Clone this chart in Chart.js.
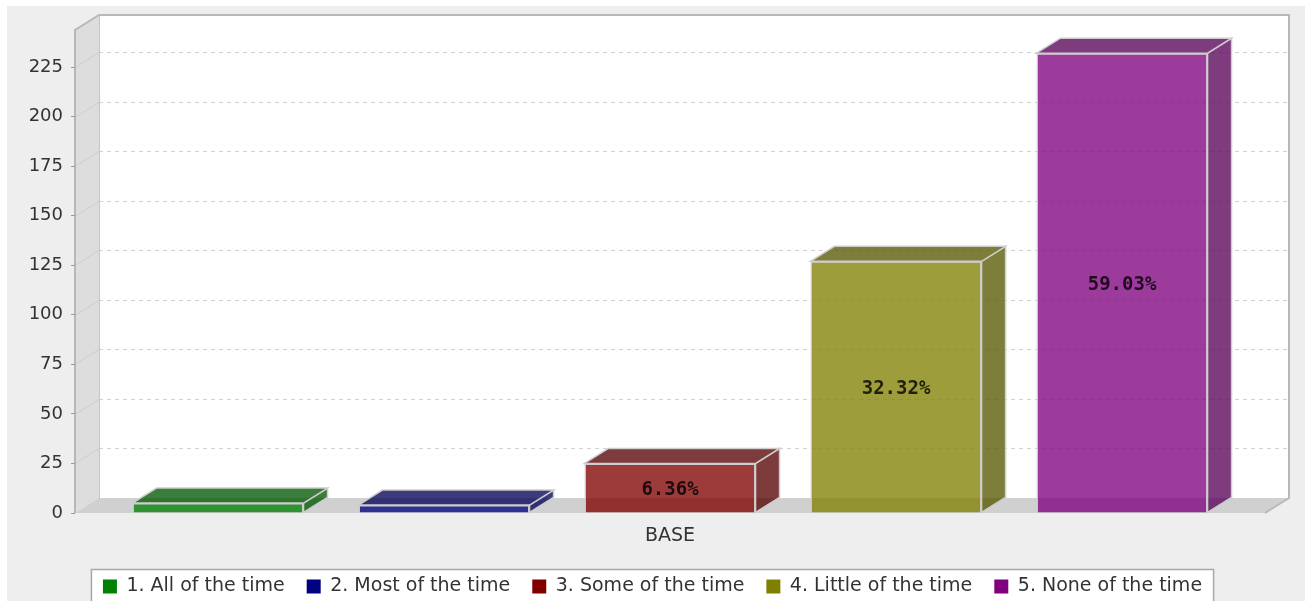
<!DOCTYPE html>
<html>
<head>
<meta charset="utf-8">
<script src="https://cdn.jsdelivr.net/npm/chart.js@4.4.1/dist/chart.umd.min.js"></script>
<style>
  html, body { margin: 0; padding: 0; background: #ffffff; overflow: hidden; }
  #wrap { width: 1305px; height: 601px; }
</style>
</head>
<body>
<div id="wrap"><canvas id="c" width="1305" height="601"></canvas></div>
<script>
// ---- data ----
const categories = ['BASE'];
const seriesLabels = ['1. All of the time', '2. Most of the time', '3. Some of the time', '4. Little of the time', '5. None of the time'];
const counts = [5, 4, 25, 127, 232];
const percentLabels = ['1.27%', '1.02%', '6.36%', '32.32%', '59.03%'];
const seriesColors = ['#008000', '#000080', '#800000', '#808000', '#800080'];
const yTickStep = 25;
const yAxisMax = 243.7;

// ---- style helpers ----
const DEPTH_X = 24, DEPTH_Y = -15;
const ALPHA = 0.77;
const LEGEND_SHIFT = 5;
function hexToRgb(h) {
  return [parseInt(h.slice(1,3),16), parseInt(h.slice(3,5),16), parseInt(h.slice(5,7),16)];
}
function rgba(h, a, k) {
  const [r,g,b] = hexToRgb(h);
  k = k || 1;
  return `rgba(${Math.round(r*k)},${Math.round(g*k)},${Math.round(b*k)},${a})`;
}

const datasets = seriesLabels.map((lab, i) => ({
  label: lab,
  data: [counts[i]],
  backgroundColor: rgba(seriesColors[i], ALPHA),
  borderColor: 'rgba(205,205,205,1)',
  borderWidth: 1.5,
  sideColor: rgba(seriesColors[i], ALPHA, 0.68),
  legendColor: seriesColors[i],
  pct: percentLabels[i]
}));

function legendExtent(chart) {
  const lg = chart.legend;
  if (!lg || !lg.legendHitBoxes || !lg.legendHitBoxes.length) return null;
  let minX = Infinity, maxX = -Infinity, minY = Infinity;
  lg.legendHitBoxes.forEach(h => { minX = Math.min(minX, h.left); maxX = Math.max(maxX, h.left + h.width); minY = Math.min(minY, h.top); });
  return {minX, maxX, minY};
}

const threeD = {
  id: 'threeD',
  beforeDraw(chart) {
    const ctx = chart.ctx;
    const {left, right, top, bottom} = chart.chartArea;
    const ys = chart.scales.y;
    ctx.save();
    ctx.fillStyle = '#ffffff';
    ctx.fillRect(0, 0, chart.width, chart.height);
    ctx.fillStyle = '#eeeeee';
    ctx.fillRect(7, 6, chart.width - 7, chart.height - 6);
    // legend frame
    const ext = legendExtent(chart);
    if (ext) {
      ctx.fillStyle = '#ffffff';
      ctx.fillRect(ext.minX - 11, ext.minY - 7, (ext.maxX - ext.minX) + 22, 40);
      ctx.strokeStyle = '#a8a8a8';
      ctx.lineWidth = 1.5;
      ctx.strokeRect(ext.minX - 11.5, ext.minY - 7.5, (ext.maxX - ext.minX) + 23, 41);
    }
    // back wall
    ctx.fillStyle = '#ffffff';
    ctx.fillRect(left + DEPTH_X, top + DEPTH_Y, right - left, bottom - top);
    // left wall
    ctx.fillStyle = '#dddddd';
    ctx.beginPath();
    ctx.moveTo(left, top);
    ctx.lineTo(left + DEPTH_X, top + DEPTH_Y);
    ctx.lineTo(left + DEPTH_X, bottom + DEPTH_Y);
    ctx.lineTo(left, bottom);
    ctx.closePath();
    ctx.fill();
    // floor
    ctx.fillStyle = '#d0d0d0';
    ctx.beginPath();
    ctx.moveTo(left, bottom);
    ctx.lineTo(left + DEPTH_X, bottom + DEPTH_Y);
    ctx.lineTo(right + DEPTH_X, bottom + DEPTH_Y);
    ctx.lineTo(right, bottom);
    ctx.closePath();
    ctx.fill();
    // gridlines
    ctx.lineWidth = 1;
    ys.ticks.forEach(t => {
      if (t.value <= 0) return;
      const yy = Math.round(ys.getPixelForValue(t.value)) + 0.5;
      ctx.strokeStyle = '#d2d2d2';
      ctx.setLineDash([4, 4]);
      ctx.beginPath();
      ctx.moveTo(left + DEPTH_X, yy + DEPTH_Y);
      ctx.lineTo(right + DEPTH_X, yy + DEPTH_Y);
      ctx.stroke();
      ctx.setLineDash([]);
      ctx.strokeStyle = '#cfcfcf';
      ctx.beginPath();
      ctx.moveTo(left, yy);
      ctx.lineTo(left + DEPTH_X, yy + DEPTH_Y);
      ctx.stroke();
    });
    // wall outlines
    ctx.strokeStyle = '#b8b8b8';
    ctx.lineWidth = 2;
    ctx.beginPath();
    ctx.moveTo(left, bottom);
    ctx.lineTo(left, top);
    ctx.lineTo(left + DEPTH_X, top + DEPTH_Y);
    ctx.lineTo(right + DEPTH_X, top + DEPTH_Y);
    ctx.lineTo(right + DEPTH_X, bottom + DEPTH_Y);
    ctx.lineTo(right, bottom);
    ctx.stroke();
    ctx.lineWidth = 1;
    ctx.strokeStyle = '#c4c4c4';
    ctx.beginPath();
    ctx.moveTo(left + DEPTH_X + 0.5, top + DEPTH_Y);
    ctx.lineTo(left + DEPTH_X + 0.5, bottom + DEPTH_Y);
    ctx.stroke();
    ctx.restore();
  },
  afterDatasetsDraw(chart) {
    const ctx = chart.ctx;
    ctx.save();
    chart.data.datasets.forEach((ds, i) => {
      const meta = chart.getDatasetMeta(i);
      meta.data.forEach(bar => {
        const l = bar.x - bar.width / 2, r = bar.x + bar.width / 2;
        const y = bar.y, b = bar.base;
        ctx.fillStyle = ds.sideColor;
        ctx.strokeStyle = 'rgba(205,205,205,1)';
        ctx.lineWidth = 1.5;
        ctx.beginPath();
        ctx.moveTo(r, y);
        ctx.lineTo(r + DEPTH_X, y + DEPTH_Y);
        ctx.lineTo(r + DEPTH_X, b + DEPTH_Y);
        ctx.lineTo(r, b);
        ctx.closePath();
        ctx.fill();
        ctx.stroke();
        ctx.beginPath();
        ctx.moveTo(l, y);
        ctx.lineTo(l + DEPTH_X, y + DEPTH_Y);
        ctx.lineTo(r + DEPTH_X, y + DEPTH_Y);
        ctx.lineTo(r, y);
        ctx.closePath();
        ctx.fill();
        ctx.stroke();
        if (b - y > 26) {
          ctx.fillStyle = 'rgba(0,0,0,0.8)';
          ctx.font = 'bold 19px "DejaVu Sans Mono"';
          ctx.textAlign = 'center';
          ctx.textBaseline = 'middle';
          ctx.fillText(ds.pct, bar.x, (y + b) / 2 + 2);
        }
      });
    });
    ctx.restore();
  }
};

new Chart(document.getElementById('c'), {
  type: 'bar',
  data: { labels: categories, datasets },
  options: {
    responsive: false,
    animation: false,
    events: [],
    layout: { padding: { left: 20, right: 20, top: 30, bottom: -LEGEND_SHIFT } },
    datasets: { bar: { categoryPercentage: 0.9496, barPercentage: 0.757 } },
    scales: {
      x: {
        grid: { display: false, drawTicks: false },
        border: { display: false },
        ticks: { color: '#333333', font: { family: '"DejaVu Sans"', size: 19 }, padding: 12 },
        afterFit(s) { s.height = s.chart.height + LEGEND_SHIFT - 513 - (s.chart.legend ? s.chart.legend.height : 0); }
      },
      y: {
        min: 0, max: yAxisMax,
        ticks: { stepSize: yTickStep, color: '#333333', font: { family: '"DejaVu Sans"', size: 18 }, padding: 8 },
        afterBuildTicks(s) { s.ticks = s.ticks.filter(t => t.value % yTickStep === 0); },
        grid: { drawOnChartArea: false, drawTicks: true, tickLength: 4, color: '#999999' },
        border: { display: false },
        afterFit(s) { s.width = 55; }
      },
      y2: {
        type: 'linear', position: 'right', display: true,
        grid: { display: false, drawTicks: false }, border: { display: false },
        ticks: { display: false },
        afterFit(s) { s.width = 20; }
      }
    },
    plugins: {
      tooltip: { enabled: false },
      legend: {
        position: 'bottom',
        labels: {
          color: '#333333',
          font: { family: '"DejaVu Sans"', size: 19 },
          boxWidth: 14, boxHeight: 14, padding: 22,
          generateLabels(chart) {
            return chart.data.datasets.map((ds, i) => ({
              text: ds.label, fillStyle: ds.legendColor, strokeStyle: ds.legendColor,
              lineWidth: 0, hidden: false, datasetIndex: i, fontColor: '#333333'
            }));
          }
        }
      }
    }
  },
  plugins: [threeD]
});
</script>
</body>
</html>
